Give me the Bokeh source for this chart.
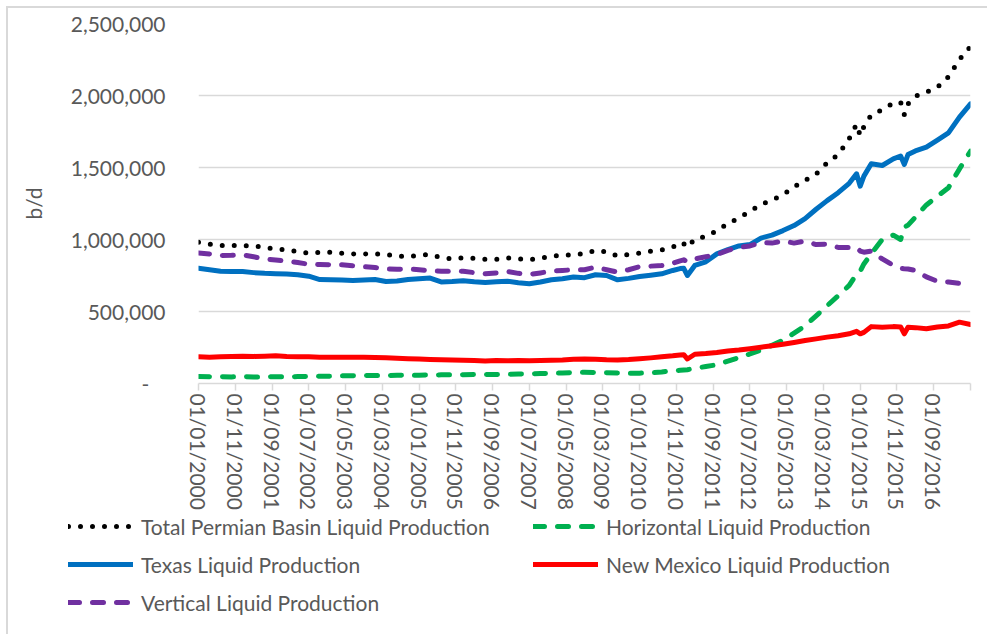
from bokeh.plotting import figure
from bokeh.models import Legend, LegendItem, FixedTicker, NumeralTickFormatter, ColumnDataSource
from bokeh.embed import file_html
from bokeh.resources import INLINE

# month index: 0 = Jan 2000
months = [0, 3, 6, 9, 12, 15, 18, 21, 24, 27, 30, 33, 36, 39, 42, 45, 48, 51, 54, 57,
          60, 63, 66, 69, 72, 75, 78, 81, 84, 87, 90, 93, 96, 99, 102, 105, 108, 111, 114, 117,
          120, 123, 126, 129, 131, 132, 133, 135, 138, 141, 144, 147, 150, 153, 156, 159, 162,
          165, 168, 171, 174, 177, 179, 180, 181, 183, 186, 189, 191, 192, 193, 195, 198, 201,
          204, 207, 210]

total = [981000, 968000, 958000, 958000, 958000, 955000, 945000, 935000, 928000, 915000,
         905000, 910000, 912000, 905000, 900000, 900000, 900000, 896000, 885000, 882000,
         890000, 896000, 875000, 866000, 873000, 870000, 862000, 862000, 873000, 865000,
         859000, 870000, 884000, 890000, 896000, 900000, 924000, 915000, 885000, 895000,
         905000, 919000, 928000, 945000, 981000, 970000, 945000, 1005000, 1020000, 1060000,
         1110000, 1150000, 1195000, 1243000, 1275000, 1310000, 1365000, 1410000, 1455000,
         1532000, 1590000, 1700000, 1800000, 1722000, 1785000, 1866000, 1900000, 1947000,
         1954000, 1868000, 1942000, 1995000, 2023000, 2058000, 2130000, 2250000, 2340000]

horizontal = [48000, 47000, 47000, 46000, 47000, 46000, 46000, 47000, 47000, 48000,
              49000, 50000, 51000, 53000, 54000, 55000, 56000, 56000, 57000, 58000,
              58000, 59000, 60000, 60000, 61000, 62000, 62000, 63000, 64000, 66000,
              67000, 69000, 71000, 73000, 76000, 78000, 77000, 75000, 73000, 72000,
              72000, 74000, 80000, 88000, 92000, 94000, 96000, 105000, 118000, 130000,
              155000, 180000, 205000, 232000, 265000, 300000, 350000, 400000, 470000,
              540000, 610000, 681000, 760000, 780000, 830000, 900000, 1000000, 1030000,
              1000000, 1085000, 1100000, 1155000, 1240000, 1300000, 1360000, 1490000, 1613000]

texas = [800000, 790000, 780000, 778000, 778000, 770000, 765000, 762000, 760000, 755000,
         745000, 722000, 720000, 718000, 715000, 718000, 722000, 708000, 712000, 722000,
         728000, 732000, 705000, 708000, 714000, 706000, 702000, 706000, 710000, 700000,
         693000, 705000, 720000, 728000, 740000, 735000, 755000, 750000, 720000, 730000,
         743000, 752000, 762000, 785000, 798000, 800000, 750000, 820000, 845000, 900000,
         930000, 955000, 965000, 1010000, 1030000, 1062000, 1097000, 1145000, 1210000,
         1270000, 1325000, 1390000, 1456000, 1370000, 1440000, 1526000, 1514000, 1560000,
         1580000, 1521000, 1590000, 1615000, 1641000, 1690000, 1740000, 1850000, 1942000]

new_mexico = [185000, 183000, 185000, 188000, 190000, 188000, 190000, 192000, 188000, 186000,
              185000, 183000, 182000, 182000, 183000, 182000, 180000, 178000, 175000, 172000,
              170000, 167000, 165000, 163000, 162000, 160000, 156000, 160000, 158000, 160000,
              158000, 160000, 162000, 164000, 168000, 170000, 168000, 165000, 164000, 167000,
              172000, 178000, 185000, 192000, 198000, 200000, 170000, 203000, 208000, 215000,
              225000, 232000, 242000, 252000, 262000, 272000, 285000, 298000, 310000,
              322000, 332000, 345000, 362000, 345000, 355000, 395000, 390000, 395000,
              393000, 345000, 390000, 388000, 380000, 392000, 400000, 426000, 410000]

vertical = [907000, 900000, 889000, 890000, 893000, 880000, 865000, 858000, 849000, 840000,
            828000, 826000, 824000, 824000, 818000, 812000, 805000, 795000, 793000, 796000,
            790000, 782000, 780000, 778000, 780000, 770000, 762000, 768000, 778000, 765000,
            757000, 768000, 780000, 785000, 790000, 790000, 808000, 790000, 773000, 790000,
            812000, 815000, 819000, 835000, 852000, 859000, 845000, 865000, 880000, 895000,
            925000, 945000, 955000, 980000, 975000, 990000, 975000, 990000, 965000,
            968000, 945000, 945000, 946000, 920000, 912000, 920000, 865000, 820000,
            800000, 796000, 795000, 785000, 740000, 710000, 705000, 695000, 669000]

tick_months = [0, 10, 20, 30, 40, 50, 60, 70, 80, 90, 100, 110, 120, 130, 140, 150, 160,
               170, 180, 190, 200]
tick_labels = ["01/01/2000", "01/11/2000", "01/09/2001", "01/07/2002", "01/05/2003",
               "01/03/2004", "01/01/2005", "01/11/2005", "01/09/2006", "01/07/2007",
               "01/05/2008", "01/03/2009", "01/01/2010", "01/11/2010", "01/09/2011",
               "01/07/2012", "01/05/2013", "01/03/2014", "01/01/2015", "01/11/2015",
               "01/09/2016"]
y_ticks = [0, 500000, 1000000, 1500000, 2000000, 2500000]

series_names = ["Total Permian Basin Liquid Production", "Horizontal Liquid Production",
                "Texas Liquid Production", "New Mexico Liquid Production",
                "Vertical Liquid Production"]

src = ColumnDataSource(dict(m=months, total=total, horizontal=horizontal, texas=texas,
                            nm=new_mexico, vertical=vertical))

FONT = "Lato"
GREY = "#595959"
EDGE = "#D9D9D9"

styles = [
    dict(line_color="black", line_width=5, line_dash="0 12", line_cap="round", line_join="round"),
    dict(line_color="#00B050", line_width=5, line_dash="11 13", line_cap="round", line_join="round"),
    dict(line_color="#0070C0", line_width=5, line_cap="round", line_join="round"),
    dict(line_color="#FF0000", line_width=5, line_cap="round", line_join="round"),
    dict(line_color="#7030A0", line_width=5, line_dash="11 13", line_cap="round", line_join="round"),
]
cols = ["total", "horizontal", "texas", "nm", "vertical"]

p = figure(frame_width=772, frame_height=360, x_range=(0, 210), y_range=(0, 2500000),
           output_backend="svg", toolbar_location=None,
           min_border_left=198, min_border_right=17, min_border_top=23, min_border_bottom=0)
p.outline_line_color = None
p.background_fill_color = "white"
p.border_fill_alpha = 0
p.styles = {"background": f"linear-gradient({EDGE}, {EDGE}) 6px 6px / 2px 100% no-repeat, "
                          f"linear-gradient({EDGE}, {EDGE}) 6px 6px / 100% 2px no-repeat, #FFFFFF"}

for c, st in zip(cols, styles):
    p.line("m", c, source=src, **st)

# y axis
p.yaxis.ticker = FixedTicker(ticks=y_ticks)
p.yaxis.formatter = NumeralTickFormatter(format="0,0")
p.yaxis.major_label_overrides = {0: "-\u00a0\u00a0\u00a0"}
p.yaxis.axis_line_color = None
p.yaxis.major_tick_line_color = None
p.yaxis.minor_tick_line_color = None
p.yaxis.major_label_text_font = FONT
p.yaxis.major_label_text_font_size = "21px"
p.yaxis.major_label_text_color = GREY
p.yaxis.major_label_standoff = 27
p.yaxis.axis_label = "b/d"
p.yaxis.axis_label_text_font = FONT
p.yaxis.axis_label_text_font_size = "21px"
p.yaxis.axis_label_text_font_style = "normal"
p.yaxis.axis_label_text_color = GREY
p.yaxis.axis_label_standoff = 22

# x axis
p.xaxis.ticker = FixedTicker(ticks=tick_months + [210])
p.xaxis.major_label_overrides = {**{m: lab for m, lab in zip(tick_months, tick_labels)}, 210: ""}
p.xaxis.major_label_orientation = "vertical"
p.xaxis.axis_line_color = EDGE
p.xaxis.axis_line_width = 1.5
p.xaxis.major_tick_line_color = EDGE
p.xaxis.major_tick_line_width = 1.5
p.xaxis.major_tick_out = 7
p.xaxis.major_tick_in = 0
p.xaxis.minor_tick_line_color = None
p.xaxis.major_label_text_font = FONT
p.xaxis.major_label_text_font_size = "21px"
p.xaxis.major_label_text_color = GREY
p.xaxis.major_label_standoff = 3

p.xgrid.visible = False
p.ygrid.ticker = FixedTicker(ticks=y_ticks)
p.ygrid.grid_line_color = EDGE
p.ygrid.grid_line_width = 1.5

# legend strip below the chart (separate root so that it is not frame-aligned)
lg = figure(width=987, height=122, x_range=(-1, 0), y_range=(-1, 0),
            output_backend="svg", toolbar_location=None,
            min_border_left=0, min_border_right=0, min_border_top=0, min_border_bottom=0)
lg.axis.visible = False
lg.grid.visible = False
lg.outline_line_color = None
lg.border_fill_alpha = 0
lg.background_fill_alpha = 0
lg.styles = {"background": f"linear-gradient({EDGE}, {EDGE}) 6px 0 / 2px 100% no-repeat, #FFFFFF"}
items = []
for name, c, st in zip(series_names, cols, styles):
    r = lg.line("m", c, source=src, **st)   # lies outside this strip's ranges
    items.append(LegendItem(label=name, renderers=[r]))

legend = Legend(items=items, location=(68, 18), orientation="horizontal", ncols=2)
legend.label_text_font = FONT
legend.label_text_font_size = "21px"
legend.label_text_color = GREY
legend.label_width = 382
legend.glyph_width = 65
legend.glyph_height = 28
legend.label_height = 28
legend.label_standoff = 8
legend.spacing = 10
legend.padding = 0
legend.margin = 0
legend.border_line_color = None
legend.background_fill_alpha = 0
lg.add_layout(legend, "center")

open("out.html", "w").write(file_html([p, lg], INLINE))
